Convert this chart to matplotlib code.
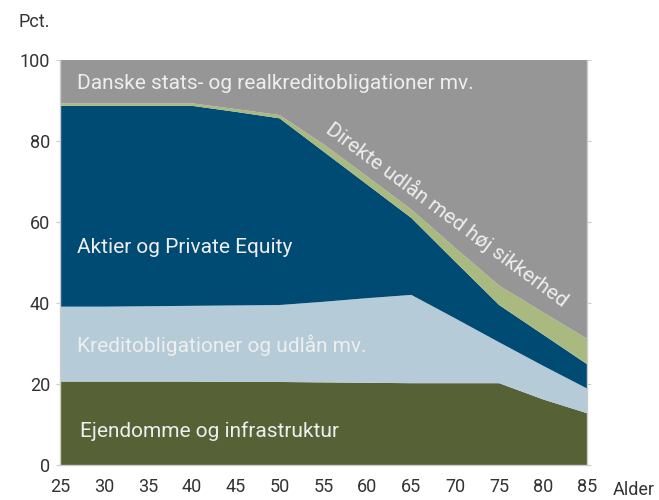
import numpy as np
import matplotlib
matplotlib.use("Agg")
import matplotlib.pyplot as plt

plt.rcParams['font.family'] = ['Roboto', 'DejaVu Sans']

ages = [25, 30, 35, 40, 45, 50, 55, 60, 65, 70, 75, 80, 85]
ejendomme = [20.6, 20.6, 20.6, 20.6, 20.5, 20.5, 20.4, 20.3, 20.2, 20.2, 20.2, 16.2, 12.8]
kredit = [18.5, 18.5, 18.6, 18.7, 18.9, 19.0, 19.9, 20.9, 21.8, 16.0, 10.1, 8.3, 6.1]
aktier = [49.6, 49.6, 49.5, 49.4, 47.8, 46.1, 37.1, 28.0, 19.0, 14.0, 9.2, 7.7, 6.0]
direkte = [0.6, 0.6, 0.6, 0.6, 0.7, 0.8, 1.8, 2.0, 2.1, 3.4, 4.8, 5.5, 6.3]
danske = [10.7, 10.7, 10.7, 10.7, 12.1, 13.6, 20.8, 28.8, 36.9, 46.4, 55.7, 62.3, 68.8]

colors = ['#566236', '#b5cbd8', '#004b74', '#a9b97f', '#969696']
txt = '#eeeeee'

fig = plt.figure(figsize=(6.59, 5.0), dpi=100)
ax = fig.add_axes([60 / 659, 35 / 500, 527 / 659, 405 / 500])

ax.stackplot(ages, ejendomme, kredit, aktier, direkte, danske, colors=colors, lw=0)

ax.set_xlim(25, 85)
ax.set_ylim(0, 100)
ax.set_xticks(range(25, 90, 5))
ax.set_yticks(range(0, 101, 20))

ax.spines['top'].set_visible(False)
for s in ['left', 'right', 'bottom']:
    ax.spines[s].set_color('#cccccc')
    ax.spines[s].set_linewidth(1.0)
ax.tick_params(axis='x', length=0, labelsize=13, pad=9, colors='#333333')
ax.tick_params(axis='y', length=3, labelsize=13, pad=4, colors='#cccccc',
               labelcolor='#333333', right=True)

fs = 15
ax.text(26.9, 94.3, 'Danske stats- og realkreditobligationer mv.', color=txt,
        fontsize=fs, ha='left', va='center')
ax.text(26.9, 53.6, 'Aktier og Private Equity', color=txt,
        fontsize=fs, ha='left', va='center')
ax.text(26.9, 29.6, 'Kreditobligationer og udlån mv.', color=txt,
        fontsize=fs, ha='left', va='center')
ax.text(27.3, 8.4, 'Ejendomme og infrastruktur', color=txt,
        fontsize=fs, ha='left', va='center')
ax.text(69.1, 62.0, 'Direkte udlån med høj sikkerhed', color=txt,
        fontsize=fs, ha='center', va='center', rotation=-36.5,
        rotation_mode='anchor')

fig.text(18 / 659, 1 - 22 / 500, 'Pct.', fontsize=13, color='#333333',
         ha='left', va='center')
fig.text(613 / 659, 1 - 490 / 500, 'Alder', fontsize=13, color='#333333',
         ha='left', va='center')

fig.savefig('out.png', dpi=100)
